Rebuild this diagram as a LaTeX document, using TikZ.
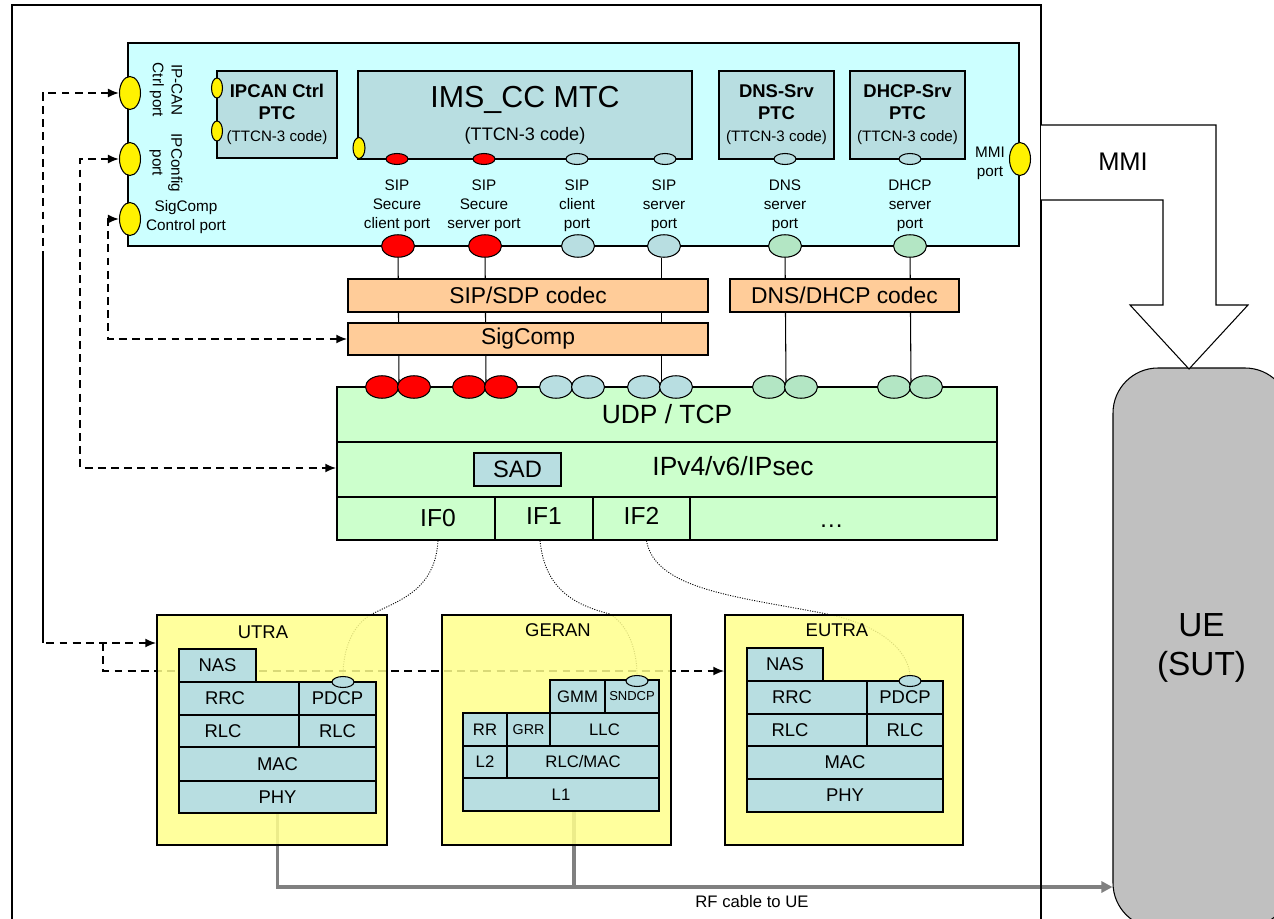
\documentclass[tikz,border=0pt]{standalone}
\usepackage{fontspec}
\setmainfont{Liberation Sans}
\usetikzlibrary{shapes.geometric,arrows.meta,positioning}

\definecolor{tsyscyan}{HTML}{CCFFFF}
\definecolor{ptcblue}{HTML}{B8DEE1}
\definecolor{codecpeach}{HTML}{FFCC99}
\definecolor{ipgreen}{HTML}{CCFFCC}
\definecolor{portgreen}{HTML}{B3E6C4}
\definecolor{radioyellow}{HTML}{FFFF8C}
\definecolor{uegray}{HTML}{C0C0C0}
\definecolor{cablegray}{HTML}{808080}

\pgfdeclarelayer{background}
\pgfsetlayers{background,main}

\begin{document}
\begin{tikzpicture}[x=0.02cm,y=-0.02cm,
	span/.style args={#1/#2/#3/#4}{at={({(#1+#3)/2},{(#2+#4)/2})},minimum width={(#3-#1)*0.02cm},minimum height={(#4-#2)*0.02cm}},
	box/.style={rectangle,draw=black,thick,inner sep=0pt},
	tsys/.style={box,fill=tsyscyan},
	ptc/.style={box,fill=ptcblue,align=center,font=\fontsize{10.5}{12.5}\selectfont\bfseries},
	codec/.style={box,fill=codecpeach,font=\fontsize{13}{15}\selectfont},
	ipstack/.style={box,fill=ipgreen,font=\fontsize{15}{18}\selectfont},
	ifcell/.style={ipstack,font=\fontsize{14}{16}\selectfont,text height=1.6ex,text depth=0.4ex},
	radio/.style={box,fill=radioyellow,fill opacity=0.85,text opacity=1},
	lfont/.style={font=\fontsize{10.5}{12}\selectfont},
	layer/.style={box,fill=ptcblue,lfont},
	glayer/.style={layer,font=\fontsize{9.5}{11}\selectfont},
	yport/.style={ellipse,draw=black,semithick,fill=yellow,inner sep=0pt,minimum width=0.42cm,minimum height=0.66cm},
	syport/.style={yport,minimum width=0.22cm,minimum height=0.4cm},
	tport/.style={ellipse,draw=black,semithick,inner sep=0pt,minimum width=0.44cm,minimum height=0.22cm},
	dport/.style={ellipse,draw=black,semithick,inner sep=0pt,minimum width=0.66cm,minimum height=0.45cm,
		path picture={
			\fill ([xshift=-0.1cm,yshift=-0.02cm]path picture bounding box.center) circle (0.035cm);
			\fill ([xshift=0.1cm,yshift=-0.02cm]path picture bounding box.center) circle (0.035cm);
		}},
	lbl/.style={align=center,font=\fontsize{8.7}{10.7}\selectfont},
	ctrl/.style={>={Latex[length=0.22cm,width=0.18cm]},draw=black,line width=1.1pt,dash pattern=on 4.5pt off 3pt},
	link/.style={draw=black,semithick},
	iflink/.style={draw=black,line width=0.5pt,dash pattern=on 0.6pt off 0.8pt},
	rf/.style={>={Triangle[length=0.22cm,width=0.22cm]},draw=cablegray,line width=1.8pt}
]

	\useasboundingbox (0,0) rectangle (1274,919);

	\draw[thick] (12,925) -- (12,5) -- (1041,5) -- (1041,925);

	\node[draw=black,semithick,fill=uegray,rounded corners=0.9cm,inner sep=0pt,span=1113/368/1290/928,
		align=center,font=\fontsize{19}{22.7}\selectfont] (ue) {UE\\(SUT)};
	\draw[semithick,fill=white] (1041,125) -- (1216,125) -- (1216,305) -- (1248,305) -- (1189,369)
		-- (1130,305) -- (1163,305) -- (1163,200) -- (1041,200);
	\node[font=\fontsize{14.5}{17}\selectfont] (mmi) at (1123,162) {MMI};

	\node[tsys,span=128/43/1019/246] (tsys) {};

	\node[yport] (ipcanport) at (130,93) {};
	\node[yport] (ipcfgport) at (130,159) {};
	\node[yport] (sigcport) at (130,219) {};
	\node[yport] (mmiport) at (1020,159) {};

	\node[lbl,rotate=-90] (ipcanlbl) at (166,90) {IP-CAN\\Ctrl port};
	\node[lbl,rotate=-90] (ipcfglbl) at (166,163) {IPConfig\\port};
	\node[lbl] (sigclbl) at (186,217) {SigComp\\Control port};
	\node[lbl] (mmilbl) at (990,163) {MMI\\port};

	\node[ptc,span=217/71/337/158] (ipcanptc) {IPCAN Ctrl\\PTC\\{\mdseries\fontsize{8.6}{10}\selectfont (TTCN-3 code)}};
	\node[syport] (ipcanp1) at (217,88) {};
	\node[syport] (ipcanp2) at (217,131) {};

	\node[ptc,span=358/71/692/159,font=\fontsize{17.3}{18}\selectfont] (mtc) {IMS\_CC MTC\\[1pt]{\fontsize{10.3}{12}\selectfont (TTCN-3 code)}};
	\node[syport,minimum width=0.24cm,minimum height=0.42cm] (mtcport) at (359,148) {};

	\node[ptc,span=719/71/834/159] (dnsptc) {DNS-Srv\\PTC\\{\mdseries\fontsize{8.6}{10}\selectfont (TTCN-3 code)}};
	\node[ptc,span=850/71/965/159] (dhcpptc) {DHCP-Srv\\PTC\\{\mdseries\fontsize{8.6}{10}\selectfont (TTCN-3 code)}};

	\foreach \n/\x/\c in {scp/397/red,ssp/484/red,cp/577/ptcblue,sp/665/ptcblue,dnsp/785/ptcblue,dhcpp/910/ptcblue}
		\node[tport,fill=\c] (\n) at (\x,159) {};

	\foreach \x/\t [count=\i] in {397/{SIP\\Secure\\client port},484/{SIP\\Secure\\server port},577/{SIP\\client\\port},
		664/{SIP\\server\\port},785/{DNS\\server\\port},910/{DHCP\\server\\port}}
		\node[lbl] (plbl\i) at (\x,206) {\t};

	\foreach \n/\x/\c in {scq/398/red,ssq/485/red,cq/578/ptcblue,sq/664/ptcblue,dnsq/785/portgreen,dhcpq/910/portgreen}
		\node[dport,fill=\c] (\n) at (\x,246) {};

	\node[codec,span=348/279/708/312] (sipcodec) {SIP/SDP codec};
	\node[codec,span=730/279/959/312] (dnscodec) {DNS/DHCP codec};
	\node[codec,span=348/323/708/355] (sigcomp) {SigComp};

	\node[ipstack,span=337/387/997/442] (udp) {UDP / TCP};
	\node[ipstack,span=337/442/997/497] (ip) {};
	\node[font=\fontsize{15}{18}\selectfont] (iplbl) at (733,466) {IPv4/v6/IPsec};
	\node[layer,span=474/453/561/486,font=\fontsize{13.5}{15}\selectfont] (sad) {SAD};
	\node[ifcell,span=337/497/495/540,label={[font=\fontsize{14}{16}\selectfont,xshift=0.44cm]center:IF0}] (if0) {};
	\node[ifcell,span=495/497/593/540] (if1) {IF1};
	\node[ifcell,span=593/497/690/540] (if2) {IF2};
	\node[ifcell,span=690/497/997/540,label={[font=\fontsize{14}{16}\selectfont,xshift=-0.24cm,yshift=-0.16cm]center:…}] (ifn) {};

	\foreach \n/\x/\c in {a/398/red,b/485/red,c/572/ptcblue,d/660/ptcblue,e/785/portgreen,f/910/portgreen} {
		\node[dport,fill=\c] (\n1) at (\x-16,387) {};
		\node[dport,fill=\c] (\n2) at (\x+16,387) {};
	}

	\node[radio,span=157/615/387/845] (utra) {};
	\node[radio,span=442/615/671/845] (geran) {};
	\node[radio,span=725/615/963/845] (eutra) {};
	\node[lfont] (utratitle) at (263,632) {UTRA};
	\node[lfont] (gerantitle) at (558,630) {GERAN};
	\node[lfont] (eutratitle) at (837,630) {EUTRA};

	\node[layer,span=179/649/256/682] (unas) {NAS};
	\node[layer,span=179/682/299/715,label={[lfont,xshift=-0.28cm]center:RRC}] (urrc) {};
	\node[layer,span=299/682/376/715] (updcp) {PDCP};
	\node[layer,span=179/715/299/747,label={[lfont,xshift=-0.32cm]center:RLC}] (urlc) {};
	\node[layer,span=299/715/376/747] (urlcb) {RLC};
	\node[layer,span=179/747/376/781] (umac) {MAC};
	\node[layer,span=179/781/376/813] (uphy) {PHY};
	\node[tport,fill=ptcblue] (uport) at (343,682) {};

	\node[glayer,span=550/680/605/713] (ggmm) {GMM};
	\node[glayer,span=605/680/659/713,font=\fontsize{7.4}{9}\selectfont] (gsndcp) {SNDCP};
	\node[glayer,span=463/713/507/746] (grr) {RR};
	\node[glayer,span=507/713/550/746,font=\fontsize{8.1}{9}\selectfont] (ggrr) {GRR};
	\node[glayer,span=550/713/659/746] (gllc) {LLC};
	\node[glayer,span=463/746/507/778] (gl2) {L2};
	\node[glayer,span=507/746/659/778] (grlcmac) {RLC/MAC};
	\node[glayer,span=463/778/659/811] (gl1) {L1};
	\node[tport,fill=ptcblue] (gport) at (637,681) {};

	\node[layer,span=747/648/823/681] (enas) {NAS};
	\node[layer,span=747/681/867/714,label={[lfont,xshift=-0.3cm]center:RRC}] (errc) {};
	\node[layer,span=867/681/943/714] (epdcp) {PDCP};
	\node[layer,span=747/714/867/746,label={[lfont,xshift=-0.34cm]center:RLC}] (erlc) {};
	\node[layer,span=867/714/943/746] (erlcb) {RLC};
	\node[layer,span=747/746/943/779] (emac) {MAC};
	\node[layer,span=747/779/943/812] (ephy) {PHY};
	\node[tport,fill=ptcblue] (eport) at (910,681) {};

	\node[font=\fontsize{9.5}{11}\selectfont] (rflbl) at (752,902) {RF cable to UE};

	\coordinate (c1) at (43,643);
	\coordinate (c2) at (103,643);
	\coordinate (c3) at (103,671);
	\coordinate (c4) at (80,468);
	\coordinate (c5) at (108,339);
	\coordinate (rfy) at (0,887);
	\coordinate (gcab) at (574,887);

	\begin{pgfonlayer}{background}
		\draw[link] (scq) -- (a1.east);
		\draw[link] (ssq) -- (b1.east);
		\draw[link] (cq.south -| c1.east) -- (c1.east);
		\draw[link] (sq.south -| d1.east) -- (d1.east);
		\draw[link] (dnsq) -- (e1.east);
		\draw[link] (dhcpq) -- (f1.east);

		\draw[ctrl,<->] (ipcanport.west) -| (c1) -- (utra.west |- c1);
		\draw[ctrl,->] (c2) -- (c3) -- (eutra.west |- c3);
		\draw[ctrl,<->] (ipcfgport.west) -| (c4) -- (ip.west |- c4);
		\draw[ctrl,<->] (sigcport.west) -| (c5) -- (sigcomp.west |- c5);

		\draw[iflink] ([xshift=0.44cm]if0.south) .. controls (435,590) and (400,600) .. (372,614)
			.. controls (352,625) and (343,650) .. (uport.north);
		\draw[iflink] ([xshift=-0.08cm]if1.south) .. controls (545,590) and (575,605) .. (610,614)
			.. controls (628,625) and (637,650) .. (gport.north);
		\draw[iflink] ([xshift=0.1cm]if2.south) .. controls (655,590) and (740,597) .. (827,614)
			.. controls (880,625) and (908,650) .. (eport.north);

		\draw[rf,->] (uphy.south) |- (ue.west |- rfy);
		\draw[rf] (gcab |- gl1.south) -- (gcab);
	\end{pgfonlayer}

\end{tikzpicture}
\end{document}
